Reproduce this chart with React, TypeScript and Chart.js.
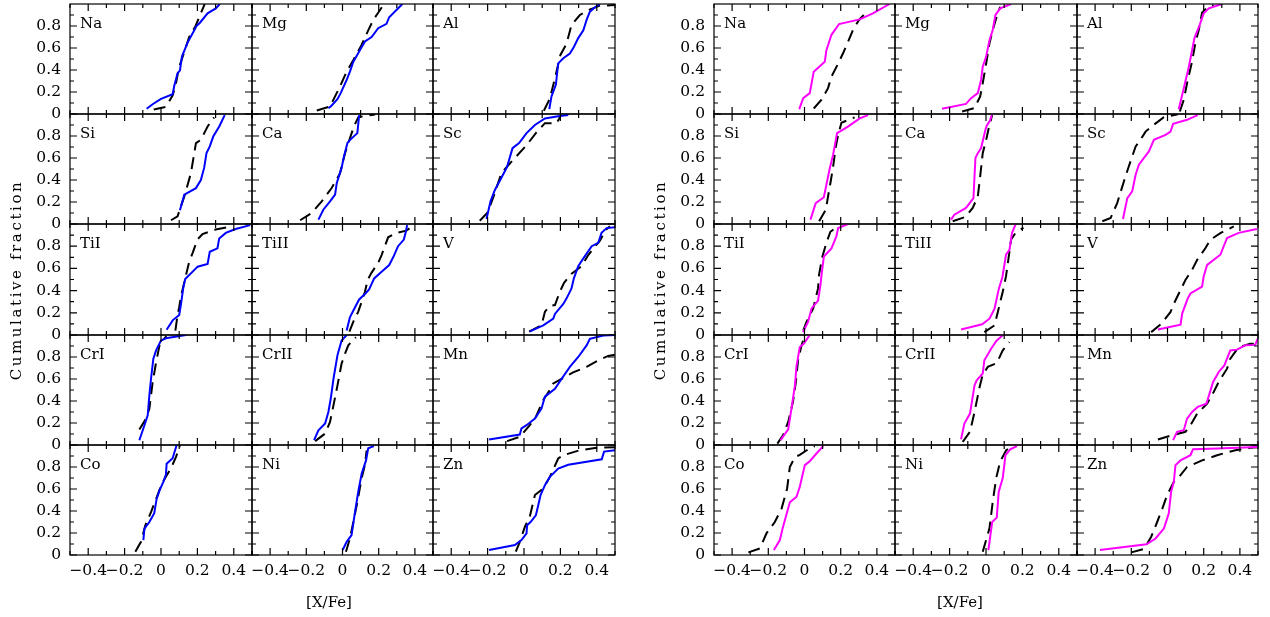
import React, { useEffect, useRef } from "react";
import { Chart, registerables } from "chart.js";
Chart.register(...registerables);

type P = [number, number][];

// ---------- element names (panel order: rows of three) ----------
const elements = ["Na", "Mg", "Al", "Si", "Ca", "Sc", "TiI", "TiII", "V", "CrI", "CrII", "Mn", "Co", "Ni", "Zn"];

// ---------- tick values ----------
const xMajorTicks = [-0.4, -0.2, 0, 0.2, 0.4];
const xMinorTicks = [-0.5, -0.3, -0.1, 0.1, 0.3, 0.5];
const yMajorTicks = [0, 0.2, 0.4, 0.6, 0.8];
const yMinorTicks = [0.1, 0.3, 0.5, 0.7, 0.9];

// ---------- left figure: blue sample (solid) and comparison (dashed) ----------
const naA: P = [[-0.079,0.047],[-0.046,0.089],[0,0.138],[0.064,0.18],[0.073,0.256],[0.091,0.371],[0.104,0.395],[0.115,0.522],[0.146,0.649],[0.177,0.743],[0.195,0.8],[0.214,0.83],[0.256,0.915],[0.301,0.96],[0.323,1.0]];
const naAd: P = [[-0.04,0.04],[0.027,0.065],[0.064,0.17],[0.08,0.26],[0.1,0.43],[0.115,0.5],[0.137,0.61],[0.155,0.7],[0.19,0.8],[0.22,0.92],[0.24,1.0]];
const mgA: P = [[-0.078,0.053],[-0.065,0.068],[-0.028,0.135],[-0.01,0.19],[0.023,0.31],[0.041,0.386],[0.06,0.476],[0.096,0.58],[0.124,0.66],[0.161,0.7],[0.197,0.78],[0.243,0.82],[0.258,0.88],[0.298,0.945],[0.331,1.0]];
const mgAd: P = [[-0.142,0.032],[-0.069,0.068],[-0.041,0.16],[-0.014,0.25],[0.023,0.386],[0.06,0.49],[0.106,0.63],[0.142,0.76],[0.17,0.855],[0.197,0.92],[0.225,0.99]];
const alA: P = [[0.139,0.044],[0.151,0.16],[0.175,0.265],[0.188,0.46],[0.216,0.507],[0.252,0.55],[0.274,0.61],[0.298,0.69],[0.326,0.76],[0.344,0.855],[0.362,0.93],[0.39,0.97],[0.417,1.0]];
const alAd: P = [[0.109,0.03],[0.142,0.14],[0.17,0.325],[0.2,0.537],[0.234,0.64],[0.261,0.81],[0.307,0.9],[0.353,0.945],[0.417,0.985],[0.5,0.99]];
const siA: P = [[0.104,0.125],[0.128,0.266],[0.192,0.326],[0.219,0.4],[0.237,0.51],[0.25,0.644],[0.268,0.705],[0.287,0.795],[0.32,0.886],[0.35,0.99]];
const siAd: P = [[0.055,0.034],[0.091,0.07],[0.128,0.25],[0.164,0.46],[0.192,0.735],[0.219,0.765],[0.256,0.886],[0.292,0.97]];
const caA: P = [[-0.133,0.04],[-0.106,0.13],[-0.069,0.205],[-0.041,0.267],[-0.032,0.37],[-0.005,0.51],[0.008,0.614],[0.027,0.735],[0.042,0.765],[0.082,0.826],[0.092,0.99]];
const caAd: P = [[-0.234,0.034],[-0.17,0.1],[-0.115,0.205],[-0.06,0.327],[-0.014,0.46],[0.014,0.644],[0.032,0.735],[0.063,0.886],[0.087,0.97],[0.115,0.98],[0.18,0.995]];
const scA: P = [[-0.206,0.046],[-0.184,0.206],[-0.16,0.31],[-0.124,0.42],[-0.093,0.52],[-0.063,0.69],[-0.027,0.735],[0.014,0.826],[0.06,0.9],[0.115,0.96],[0.188,0.98],[0.243,0.99]];
const scAd: P = [[-0.243,0.03],[-0.202,0.1],[-0.17,0.237],[-0.124,0.463],[-0.078,0.55],[0.005,0.7],[0.023,0.735],[0.065,0.826],[0.115,0.917],[0.179,0.917],[0.2,0.977]];
const tiIA: P = [[0.031,0.048],[0.064,0.132],[0.1,0.18],[0.11,0.28],[0.122,0.42],[0.133,0.505],[0.192,0.6],[0.201,0.615],[0.256,0.64],[0.268,0.75],[0.31,0.78],[0.32,0.87],[0.356,0.92],[0.41,0.955],[0.49,0.99]];
const tiIAd: P = [[0.079,0.04],[0.091,0.18],[0.1,0.25],[0.11,0.35],[0.133,0.51],[0.155,0.66],[0.174,0.74],[0.2,0.86],[0.228,0.91],[0.3,0.95],[0.39,0.98]];
const tiIIA: P = [[0.023,0.04],[0.041,0.16],[0.06,0.22],[0.092,0.32],[0.124,0.37],[0.147,0.41],[0.175,0.51],[0.216,0.57],[0.258,0.63],[0.283,0.71],[0.307,0.8],[0.339,0.86],[0.35,0.93],[0.357,0.99]];
const tiIIAd: P = [[0.038,0.03],[0.06,0.12],[0.087,0.21],[0.106,0.3],[0.124,0.39],[0.14,0.5],[0.16,0.56],[0.197,0.65],[0.216,0.72],[0.252,0.88],[0.298,0.92],[0.353,0.94],[0.386,0.98]];
const vA: P = [[0.032,0.032],[0.106,0.087],[0.161,0.147],[0.17,0.19],[0.216,0.28],[0.234,0.33],[0.261,0.42],[0.274,0.51],[0.298,0.62],[0.326,0.69],[0.372,0.8],[0.408,0.83],[0.426,0.92],[0.454,0.963],[0.5,0.97]];
const vAd: P = [[0.028,0.03],[0.096,0.087],[0.115,0.21],[0.142,0.26],[0.17,0.27],[0.197,0.39],[0.22,0.47],[0.26,0.55],[0.316,0.62],[0.353,0.72],[0.381,0.78],[0.417,0.85],[0.45,0.948],[0.472,0.98]];
const crIA: P = [[-0.119,0.043],[-0.091,0.18],[-0.073,0.27],[-0.064,0.45],[-0.055,0.6],[-0.042,0.785],[-0.027,0.86],[0,0.95],[0.027,0.97],[0.137,1.0]];
const crIAd: P = [[-0.119,0.14],[-0.082,0.24],[-0.064,0.33],[-0.046,0.57],[-0.027,0.75],[-0.009,0.9],[0.009,0.95],[0.03,0.99]];
const crIIA: P = [[-0.157,0.044],[-0.133,0.134],[-0.096,0.195],[-0.078,0.3],[-0.065,0.42],[-0.05,0.6],[-0.028,0.815],[-0.005,0.95],[0.023,1.0]];
const crIIAd: P = [[-0.151,0.035],[-0.096,0.104],[-0.069,0.21],[-0.05,0.36],[-0.028,0.54],[-0.005,0.74],[0.014,0.83],[0.032,0.906],[0.074,0.98]];
const mnA: P = [[-0.192,0.05],[-0.023,0.095],[-0.014,0.15],[0.014,0.18],[0.06,0.24],[0.096,0.33],[0.115,0.44],[0.17,0.51],[0.206,0.6],[0.252,0.71],[0.298,0.8],[0.344,0.905],[0.362,0.966],[0.436,0.996],[0.5,1.0]];
const mnAd: P = [[-0.093,0.035],[-0.023,0.074],[0.032,0.18],[0.065,0.255],[0.106,0.41],[0.142,0.5],[0.161,0.56],[0.206,0.6],[0.27,0.66],[0.344,0.71],[0.408,0.77],[0.463,0.81],[0.5,0.82]];
const coA: P = [[-0.097,0.136],[-0.091,0.24],[-0.064,0.3],[-0.037,0.38],[-0.024,0.51],[-0.005,0.6],[0.013,0.665],[0.027,0.73],[0.031,0.83],[0.064,0.88],[0.086,1.0]];
const coAd: P = [[-0.141,0.03],[-0.11,0.12],[-0.086,0.27],[-0.055,0.39],[-0.027,0.51],[0.005,0.65],[0.055,0.79],[0.082,0.89],[0.104,0.99]];
const niA: P = [[0.001,0.045],[0.023,0.12],[0.05,0.18],[0.069,0.39],[0.087,0.575],[0.106,0.74],[0.13,0.86],[0.142,0.97],[0.173,0.99]];
const niAd: P = [[0.019,0.03],[0.041,0.15],[0.06,0.3],[0.082,0.48],[0.106,0.7],[0.124,0.82],[0.133,0.95]];
const znA: P = [[-0.192,0.045],[-0.05,0.09],[-0.014,0.136],[0.014,0.197],[0.017,0.27],[0.036,0.3],[0.065,0.36],[0.078,0.45],[0.091,0.545],[0.115,0.635],[0.142,0.71],[0.188,0.786],[0.243,0.82],[0.427,0.87],[0.44,0.94],[0.5,0.953]];
const znAd: P = [[-0.045,0.03],[-0.023,0.12],[0.005,0.257],[0.032,0.35],[0.06,0.545],[0.106,0.605],[0.142,0.71],[0.188,0.877],[0.216,0.907],[0.307,0.953],[0.399,0.974],[0.5,0.98]];

// ---------- right figure: magenta sample (solid) and comparison (dashed) ----------
const naB: P = [[-0.029,0.044],[-0.007,0.144],[0.029,0.19],[0.051,0.385],[0.112,0.476],[0.121,0.58],[0.149,0.72],[0.191,0.818],[0.305,0.86],[0.378,0.915],[0.47,1.0]];
const naBd: P = [[0.051,0.05],[0.094,0.13],[0.13,0.235],[0.149,0.34],[0.182,0.446],[0.213,0.552],[0.241,0.658],[0.268,0.764],[0.301,0.855],[0.351,0.94]];
const mgB: P = [[-0.242,0.047],[-0.11,0.092],[-0.082,0.144],[-0.045,0.19],[-0.027,0.31],[-0.018,0.43],[0.001,0.522],[0.019,0.67],[0.037,0.764],[0.052,0.9],[0.078,0.96],[0.138,1.0]];
const mgBd: P = [[-0.131,0.023],[-0.064,0.053],[-0.032,0.159],[-0.018,0.28],[0.001,0.46],[0.019,0.643],[0.037,0.764],[0.056,0.87],[0.078,0.975]];
const alB: P = [[0.062,0.044],[0.09,0.235],[0.118,0.43],[0.149,0.69],[0.178,0.81],[0.2,0.915],[0.228,0.96],[0.301,1.0]];
const alBd: P = [[0.068,0.023],[0.09,0.13],[0.108,0.28],[0.136,0.48],[0.154,0.645],[0.173,0.766],[0.191,0.92],[0.219,0.97],[0.255,0.99]];
const siB: P = [[0.033,0.04],[0.062,0.19],[0.107,0.243],[0.121,0.357],[0.14,0.51],[0.158,0.63],[0.18,0.826],[0.24,0.886],[0.305,0.96],[0.351,0.99]];
const siBd: P = [[0.081,0.025],[0.118,0.13],[0.13,0.25],[0.143,0.37],[0.158,0.52],[0.173,0.705],[0.186,0.81],[0.204,0.92],[0.277,0.97]];
const caB: P = [[-0.192,0.04],[-0.174,0.085],[-0.11,0.146],[-0.069,0.236],[-0.058,0.6],[-0.045,0.644],[-0.027,0.69],[-0.003,0.857],[0.004,0.893],[0.022,0.94],[0.032,0.99]];
const caBd: P = [[-0.183,0.025],[-0.113,0.064],[-0.073,0.146],[-0.045,0.25],[-0.032,0.433],[-0.018,0.644],[0.001,0.766],[0.015,0.87],[0.034,0.99]];
const scB: P = [[-0.246,0.046],[-0.222,0.236],[-0.195,0.297],[-0.176,0.448],[-0.158,0.54],[-0.103,0.66],[-0.075,0.766],[-0.011,0.81],[0.017,0.84],[0.031,0.91],[0.108,0.947],[0.167,0.99]];
const scBd: P = [[-0.36,0.025],[-0.314,0.055],[-0.278,0.19],[-0.241,0.387],[-0.214,0.523],[-0.176,0.705],[-0.149,0.766],[-0.121,0.84],[-0.085,0.89],[-0.02,0.97],[0.057,0.997]];
const tiIB: P = [[-0.008,0.025],[0.02,0.12],[0.039,0.24],[0.075,0.31],[0.088,0.45],[0.094,0.54],[0.107,0.707],[0.149,0.78],[0.176,0.888],[0.186,0.964],[0.24,1.0]];
const tiIBd: P = [[-0.007,0.04],[0.011,0.117],[0.048,0.24],[0.075,0.42],[0.08,0.54],[0.099,0.707],[0.121,0.83],[0.143,0.93],[0.176,0.97]];
const tiIIB: P = [[-0.137,0.05],[-0.021,0.096],[0.019,0.147],[0.047,0.238],[0.071,0.42],[0.09,0.52],[0.11,0.723],[0.129,0.768],[0.143,0.92],[0.162,0.995]];
const tiIIBd: P = [[-0.009,0.026],[0.047,0.087],[0.065,0.208],[0.092,0.39],[0.11,0.53],[0.12,0.647],[0.138,0.86],[0.162,0.92],[0.206,0.967]];
const vB: P = [[-0.053,0.05],[0.072,0.093],[0.081,0.193],[0.112,0.33],[0.127,0.374],[0.191,0.435],[0.2,0.53],[0.219,0.632],[0.292,0.723],[0.329,0.874],[0.393,0.92],[0.494,0.955]];
const vBd: P = [[-0.09,0.026],[-0.035,0.1],[0.017,0.208],[0.031,0.268],[0.072,0.405],[0.099,0.495],[0.136,0.587],[0.164,0.677],[0.209,0.782],[0.237,0.858],[0.292,0.918],[0.366,0.978]];
const crIB: P = [[-0.132,0.044],[-0.09,0.143],[-0.072,0.33],[-0.053,0.54],[-0.044,0.72],[-0.026,0.89],[-0.004,0.92],[0.029,1.0]];
const crIBd: P = [[-0.15,0.013],[-0.118,0.09],[-0.09,0.21],[-0.064,0.39],[-0.048,0.57],[-0.035,0.78],[-0.017,0.9],[0.002,1.0]];
const crIIB: P = [[-0.137,0.053],[-0.119,0.195],[-0.088,0.286],[-0.063,0.543],[-0.051,0.588],[-0.018,0.65],[-0.009,0.77],[0.028,0.875],[0.059,0.95],[0.092,0.997]];
const crIIBd: P = [[-0.128,0.028],[-0.088,0.12],[-0.063,0.3],[-0.036,0.52],[-0.018,0.64],[0.01,0.71],[0.059,0.745],[0.092,0.86],[0.129,0.936]];
const mnB: P = [[0.031,0.044],[0.053,0.12],[0.09,0.134],[0.108,0.24],[0.136,0.3],[0.167,0.346],[0.215,0.376],[0.252,0.573],[0.283,0.664],[0.314,0.724],[0.347,0.86],[0.384,0.867],[0.43,0.906],[0.485,0.91],[0.498,0.966]];
const mnBd: P = [[-0.053,0.05],[0.026,0.089],[0.099,0.12],[0.127,0.18],[0.164,0.285],[0.219,0.376],[0.255,0.482],[0.283,0.573],[0.329,0.694],[0.347,0.785],[0.393,0.89],[0.457,0.92],[0.494,0.92]];
const coB: P = [[-0.169,0.045],[-0.136,0.136],[-0.121,0.24],[-0.081,0.48],[-0.044,0.53],[-0.026,0.62],[0.002,0.817],[0.029,0.853],[0.066,0.923],[0.103,0.99]];
const coBd: P = [[-0.31,0.024],[-0.246,0.06],[-0.21,0.197],[-0.164,0.3],[-0.127,0.42],[-0.096,0.605],[-0.081,0.8],[-0.053,0.89],[-0.026,0.91],[0.029,0.97],[0.057,0.99]];
const niB: P = [[0.013,0.045],[0.034,0.3],[0.059,0.34],[0.07,0.575],[0.092,0.7],[0.107,0.907],[0.133,0.96],[0.17,0.99]];
const niBd: P = [[-0.018,0.03],[0.019,0.242],[0.037,0.484],[0.056,0.7],[0.078,0.85],[0.111,0.953],[0.138,0.98]];
const znB: P = [[-0.373,0.045],[-0.116,0.097],[-0.066,0.15],[-0.02,0.24],[0.007,0.378],[0.02,0.575],[0.035,0.665],[0.044,0.817],[0.072,0.86],[0.127,0.907],[0.141,0.962],[0.274,0.968],[0.503,0.983]];
const znBd: P = [[-0.2,0.024],[-0.13,0.054],[-0.09,0.166],[-0.057,0.3],[-0.029,0.42],[-0.002,0.545],[0.035,0.665],[0.072,0.726],[0.108,0.8],[0.191,0.86],[0.274,0.907],[0.375,0.953],[0.457,0.974],[0.503,0.98]];

const leftSolid = [naA, mgA, alA, siA, caA, scA, tiIA, tiIIA, vA, crIA, crIIA, mnA, coA, niA, znA];
const leftDashed = [naAd, mgAd, alAd, siAd, caAd, scAd, tiIAd, tiIIAd, vAd, crIAd, crIIAd, mnAd, coAd, niAd, znAd];
const rightSolid = [naB, mgB, alB, siB, caB, scB, tiIB, tiIIB, vB, crIB, crIIB, mnB, coB, niB, znB];
const rightDashed = [naBd, mgBd, alBd, siBd, caBd, scBd, tiIBd, tiIIBd, vBd, crIBd, crIIBd, mnBd, coBd, niBd, znBd];

// ---------- layout (pixels) ----------
const FONT = '"DejaVu Serif", serif';
const rowEdges = [4, 114, 224, 335, 445, 555];
const groups = [
  { cols: [70, 252, 433, 615], solid: leftSolid, dashed: leftDashed, color: "#0000ff", yTitleX: 17, xTitleX: 329 },
  { cols: [714, 895, 1077, 1258], solid: rightSolid, dashed: rightDashed, color: "#ff00ff", yTitleX: 661, xTitleX: 960 },
];

const fmt = (v: number) => (Math.abs(v) < 1e-9 ? "0" : (v < 0 ? "\u2212" : "") + Math.abs(v).toFixed(1));

const framePlugin = {
  id: "frame",
  afterDraw(chart: any, _args: any, opts: any) {
    const { ctx, chartArea } = chart;
    const { left, right, top, bottom } = chartArea;
    const xs = chart.scales.x;
    const ys = chart.scales.y;
    ctx.save();
    ctx.strokeStyle = "#000";
    ctx.fillStyle = "#000";
    ctx.lineWidth = 1.2;
    ctx.strokeRect(left, top, right - left, bottom - top);
    ctx.beginPath();
    const tx = (v: number, len: number) => {
      const px = xs.getPixelForValue(v);
      ctx.moveTo(px, bottom); ctx.lineTo(px, bottom - len);
      ctx.moveTo(px, top); ctx.lineTo(px, top + len);
    };
    const ty = (v: number, len: number) => {
      const py = ys.getPixelForValue(v);
      ctx.moveTo(left, py); ctx.lineTo(left + len, py);
      ctx.moveTo(right, py); ctx.lineTo(right - len, py);
    };
    xMajorTicks.forEach((v) => tx(v, 7));
    xMinorTicks.forEach((v) => tx(v, 4));
    yMajorTicks.forEach((v) => ty(v, 7));
    yMinorTicks.forEach((v) => ty(v, 4));
    ctx.stroke();
    ctx.font = `15.5px ${FONT}`;
    if (opts.col === 0) {
      ctx.textAlign = "right";
      ctx.textBaseline = "middle";
      yMajorTicks.forEach((v) => ctx.fillText(fmt(v), left - 9, ys.getPixelForValue(v)));
    }
    if (opts.row === 4) {
      ctx.textAlign = "center";
      ctx.textBaseline = "middle";
      xMajorTicks.forEach((v) => ctx.fillText(fmt(v), xs.getPixelForValue(v), bottom + 16));
    }
    ctx.font = `15px ${FONT}`;
    ctx.textAlign = "left";
    ctx.textBaseline = "alphabetic";
    ctx.fillText(opts.label, left + 10, top + 23.5);
    ctx.restore();
  },
};

type PanelProps = { x0: number; x1: number; y0: number; y1: number; col: number; row: number; label: string; solid: P; dashed: P; color: string };

function Panel({ x0, x1, y0, y1, col, row, label, solid, dashed, color }: PanelProps) {
  const ref = useRef<HTMLCanvasElement | null>(null);
  const ML = col === 0 ? 66 : 4;
  const MR = 4;
  const MT = 10;
  const MB = row === 4 ? 30 : 10;
  const W = x1 - x0 + ML + MR;
  const H = y1 - y0 + MT + MB;
  useEffect(() => {
    if (!ref.current) return;
    const chart = new Chart(ref.current, {
      type: "line",
      data: {
        datasets: [
          {
            data: solid.map(([x, y]) => ({ x, y })),
            borderColor: color,
            borderWidth: 2,
            pointRadius: 0,
            tension: 0,
            fill: false,
            order: 0,
          },
          {
            data: dashed.map(([x, y]) => ({ x, y })),
            borderColor: "#000",
            borderWidth: 2,
            borderDash: [12, 7],
            pointRadius: 0,
            tension: 0,
            fill: false,
            order: 1,
          },
        ],
      },
      options: {
        animation: false,
        responsive: false,
        maintainAspectRatio: false,
        events: [],
        layout: { padding: { left: ML, right: MR, top: MT, bottom: MB } },
        scales: {
          x: { type: "linear", min: -0.5, max: 0.5, display: false },
          y: { type: "linear", min: 0, max: 1, display: false },
        },
        plugins: {
          legend: { display: false },
          tooltip: { enabled: false },
          frame: { col, row, label },
        } as any,
      },
      plugins: [framePlugin],
    });
    return () => chart.destroy();
  }, []);
  return (
    <canvas
      ref={ref}
      width={W}
      height={H}
      style={{ position: "absolute", left: x0 - ML, top: y0 - MT, width: W, height: H }}
    />
  );
}

export default function App() {
  return (
    <div style={{ position: "absolute", left: 0, top: 0, width: 1270, height: 617, background: "#fff", overflow: "hidden" }}>
      {groups.map((g, gi) => (
        <React.Fragment key={gi}>
          {elements.map((el, i) => {
            const row = Math.floor(i / 3);
            const col = i % 3;
            return (
              <Panel
                key={el}
                x0={g.cols[col]}
                x1={g.cols[col + 1]}
                y0={rowEdges[row]}
                y1={rowEdges[row + 1]}
                col={col}
                row={row}
                label={el}
                solid={g.solid[i]}
                dashed={g.dashed[i]}
                color={g.color}
              />
            );
          })}
          <div
            style={{
              position: "absolute",
              left: g.yTitleX - 130,
              top: 280 - 10,
              width: 260,
              height: 20,
              lineHeight: "20px",
              textAlign: "center",
              transform: "rotate(-90deg)",
              font: `15px ${FONT}`,
              letterSpacing: "2.6px",
              color: "#000",
              whiteSpace: "nowrap",
            }}
          >
            Cumulative fraction
          </div>
          <div
            style={{
              position: "absolute",
              left: g.xTitleX - 60,
              top: 603 - 10,
              width: 120,
              height: 20,
              lineHeight: "20px",
              textAlign: "center",
              font: `15px ${FONT}`,
              color: "#000",
              whiteSpace: "nowrap",
            }}
          >
            [X/Fe]
          </div>
        </React.Fragment>
      ))}
    </div>
  );
}
